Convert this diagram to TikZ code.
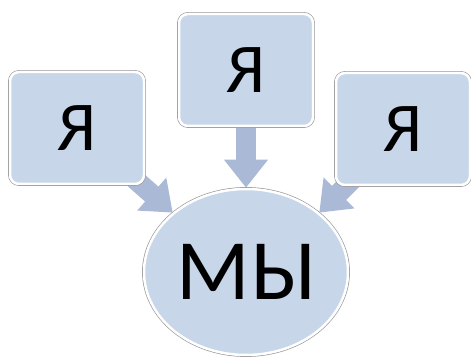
\documentclass[tikz,border=0pt]{standalone}
\usepackage{fontspec}
\setmainfont{Carlito}
\usetikzlibrary{shapes.geometric,arrows.meta,backgrounds}
\definecolor{boxblue}{RGB}{200,214,234}
\definecolor{arrowblue}{RGB}{170,186,214}
\definecolor{rimgray}{RGB}{150,150,150}
\tikzset{
  rim/.style={fill=boxblue, draw=white, line width=2.5pt,
    preaction={draw=rimgray, line width=3.8pt}},
  yabox/.style={rim, rectangle, rounded corners=9pt, minimum width=134pt,
    minimum height=112pt, inner sep=0pt, font=\fontsize{70}{70}\selectfont},
  feed/.style={arrowblue, line width=20pt,
    -{Triangle[width=42pt,length=28pt]}}
}
\begin{document}
\begin{tikzpicture}[x=1pt,y=1pt]
    \useasboundingbox (0,0) rectangle (471,356);
    \def\ys{(77,228),(246,286),(403,227)}
    %        left      top       right
    \foreach \u [count=\i from 1] in \ys {\node[yabox] (ya\i) at \u {Я};}
    \node[rim, ellipse, minimum width=204pt, minimum height=166pt, inner sep=0pt,
      font=\fontsize{86}{86}\selectfont] (my) at (246,84) {МЫ};
    \begin{scope}[on background layer]
      \draw[feed] (ya1.center)--(my.141);
      \draw[feed] (ya2.center)--(my.north);
      \draw[feed] (ya3.center)--(my.39);
    \end{scope}
  \end{tikzpicture}
\end{document}
